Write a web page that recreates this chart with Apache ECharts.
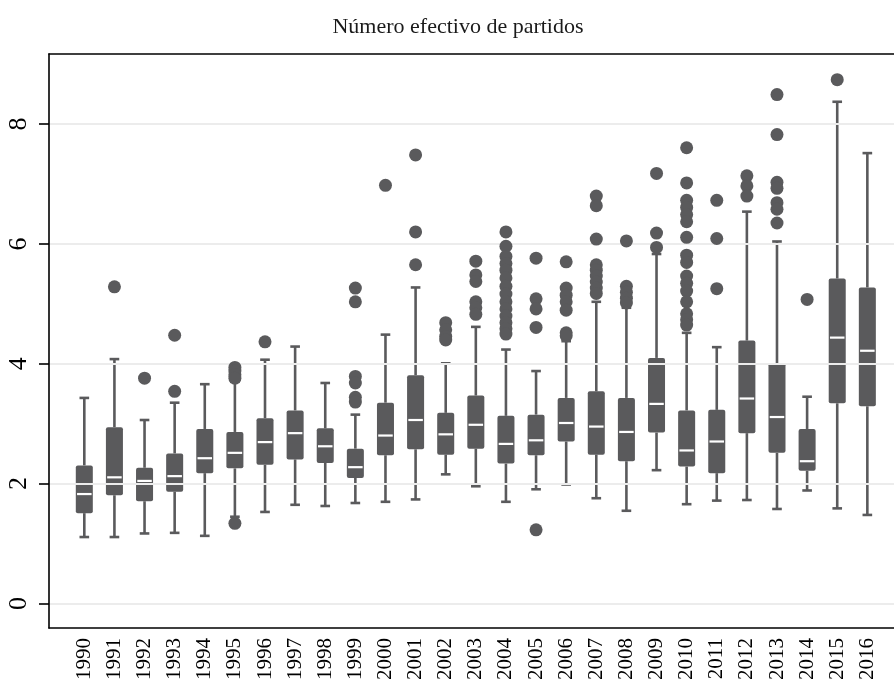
<!DOCTYPE html>
<html>
<head>
<meta charset="utf-8">
<script src="https://cdn.jsdelivr.net/npm/echarts@6/dist/echarts.min.js"></script>
<style>html,body{margin:0;padding:0;background:#fff;}#c{width:894px;height:683px;}</style>
</head>
<body>
<div id="c"></div>
<script>
const titleText = 'Número efectivo de partidos';
const years = ['1990','1991','1992','1993','1994','1995','1996','1997','1998','1999','2000','2001','2002','2003','2004','2005','2006','2007','2008','2009','2010','2011','2012','2013','2014','2015','2016'];
const mins = [1.08,1.08,1.14,1.15,1.10,1.42,1.50,1.62,1.60,1.65,1.67,1.71,2.13,1.93,1.67,1.88,1.96,1.73,1.52,2.20,1.63,1.69,1.70,1.55,1.86,1.56,1.45];
const q1s  = [1.48,1.78,1.68,1.84,2.15,2.23,2.29,2.38,2.32,2.07,2.45,2.55,2.46,2.56,2.31,2.45,2.68,2.46,2.35,2.83,2.26,2.15,2.82,2.49,2.19,3.32,3.27];
const medians = [1.80,2.08,2.02,2.10,2.40,2.49,2.67,2.82,2.60,2.25,2.78,3.04,2.80,2.96,2.64,2.70,2.99,2.93,2.84,3.31,2.53,2.68,3.40,3.09,2.35,4.42,4.20];
const q3s  = [2.28,2.92,2.24,2.48,2.89,2.84,3.07,3.20,2.90,2.56,3.33,3.79,3.16,3.45,3.11,3.13,3.41,3.52,3.41,4.08,3.20,3.21,4.37,3.99,2.89,5.41,5.26];
const maxs = [3.41,4.06,3.04,3.33,3.64,3.68,4.05,4.27,3.66,3.13,4.47,5.26,3.99,4.60,4.22,3.86,4.36,5.02,4.92,5.82,4.50,4.26,6.53,6.03,3.43,8.37,7.51];
const outliers = [
  [],
  [5.27],
  [3.74],
  [4.46, 3.52],
  [],
  [3.92, 3.86, 3.80, 3.74, 1.31],
  [4.35],
  [],
  [],
  [5.25, 5.02, 3.77, 3.66, 3.42, 3.34],
  [6.97],
  [7.48, 6.19, 5.64],
  [4.67, 4.55, 4.44, 4.38],
  [5.70, 5.47, 5.36, 5.02, 4.92, 4.81],
  [6.19, 5.95, 5.78, 5.66, 5.55, 5.42, 5.28, 5.15, 5.02, 4.90, 4.78, 4.67, 4.57, 4.48],
  [5.75, 5.07, 4.90, 4.59, 1.20],
  [5.69, 5.25, 5.13, 5.02, 4.88, 4.50, 4.45],
  [6.79, 6.63, 6.07, 5.64, 5.55, 5.45, 5.35, 5.25, 5.16],
  [6.04, 5.28, 5.18, 5.08, 5.00],
  [7.17, 6.17, 5.93],
  [7.60, 7.01, 6.72, 6.60, 6.48, 6.36, 6.10, 5.80, 5.68, 5.45, 5.33, 5.20, 5.02, 4.82, 4.72, 4.63],
  [6.72, 6.08, 5.24],
  [7.13, 6.96, 6.79],
  [8.49, 7.82, 7.02, 6.92, 6.68, 6.57, 6.34],
  [5.06],
  [8.74],
  []
];
const yTicks = [0, 2, 4, 6, 8];

const boxColor = '#5a5a5c';
const serif = '"Liberation Serif", "DejaVu Serif", serif';
const yMin = -0.41, yMax = 9.17;

const boxData = years.map((y, i) => [i, mins[i], q1s[i], medians[i], q3s[i], maxs[i]]);
const outData = [];
outliers.forEach((arr, i) => arr.forEach(v => outData.push([i, v])));

const frameLine = {show: true, onZero: false, lineStyle: {color: '#000', width: 1.6}};

const chart = echarts.init(document.getElementById('c'), null, {renderer: 'canvas'});
chart.setOption({
  animation: false,
  backgroundColor: '#fff',
  title: {
    text: titleText, left: 453, textAlign: 'center', top: 11,
    textStyle: {fontFamily: serif, fontSize: 22, fontWeight: 'normal', color: '#1a1a1a'}
  },
  grid: [
    {left: 49, right: 0, top: 54, bottom: 55},
    {left: 69.25, right: 11.6, top: 54, bottom: 55}
  ],
  xAxis: [
    {gridIndex: 0, type: 'value', min: 0, max: 1, position: 'bottom', z: 3,
     axisLine: frameLine,
     axisTick: {show: false}, axisLabel: {show: false}, splitLine: {show: false}},
    {gridIndex: 0, type: 'value', min: 0, max: 1, position: 'top', z: 3,
     axisLine: frameLine,
     axisTick: {show: false}, axisLabel: {show: false}, splitLine: {show: false}},
    {gridIndex: 1, type: 'category', data: years, boundaryGap: true,
     axisLine: {show: false}, axisTick: {show: false},
     axisLabel: {rotate: 90, margin: 12, fontSize: 21, fontFamily: serif, color: '#000', interval: 0}}
  ],
  yAxis: [
    {gridIndex: 0, type: 'value', min: yMin, max: yMax, z: 3,
     axisLine: frameLine,
     axisTick: {show: true, length: 10, customValues: yTicks, lineStyle: {color: '#000', width: 1.6}},
     axisLabel: {show: true, customValues: yTicks, rotate: 90, margin: 17, fontSize: 26, fontFamily: serif, color: '#000'},
     splitLine: {show: true, lineStyle: {color: '#ececec', width: 2}}},
    {gridIndex: 1, type: 'value', min: yMin, max: yMax, show: false}
  ],
  series: [
    {
      type: 'custom', xAxisIndex: 2, yAxisIndex: 1, z: 2,
      data: boxData,
      encode: {x: 0, y: [1, 2, 3, 4, 5]},
      renderItem: function (params, api) {
        const x = api.value(0);
        const pMin = api.coord([x, api.value(1)]);
        const pQ1 = api.coord([x, api.value(2)]);
        const pMed = api.coord([x, api.value(3)]);
        const pQ3 = api.coord([x, api.value(4)]);
        const pMax = api.coord([x, api.value(5)]);
        const bw = api.size([1, 0])[0];
        const cx = pMed[0];
        const boxW = bw * 0.565;
        const capW = bw * 0.32;
        const medW = boxW - 2.5;
        const ls = {stroke: boxColor, lineWidth: 2.6};
        return {
          type: 'group',
          children: [
            {type: 'line', shape: {x1: cx, y1: pMax[1], x2: cx, y2: pQ3[1]}, style: ls},
            {type: 'line', shape: {x1: cx, y1: pQ1[1], x2: cx, y2: pMin[1]}, style: ls},
            {type: 'line', shape: {x1: cx - capW / 2, y1: pMax[1], x2: cx + capW / 2, y2: pMax[1]}, style: ls},
            {type: 'line', shape: {x1: cx - capW / 2, y1: pMin[1], x2: cx + capW / 2, y2: pMin[1]}, style: ls},
            {type: 'rect', shape: {x: cx - boxW / 2, y: pQ3[1], width: boxW, height: pQ1[1] - pQ3[1], r: 2}, style: {fill: boxColor}},
            {type: 'line', shape: {x1: cx - medW / 2, y1: pMed[1], x2: cx + medW / 2, y2: pMed[1]}, style: {stroke: '#fff', lineWidth: 2.2}}
          ]
        };
      }
    },
    {
      type: 'scatter', xAxisIndex: 2, yAxisIndex: 1, z: 3,
      data: outData, symbol: 'circle', symbolSize: 13,
      itemStyle: {color: boxColor, opacity: 1}
    }
  ]
});
</script>
</body>
</html>
